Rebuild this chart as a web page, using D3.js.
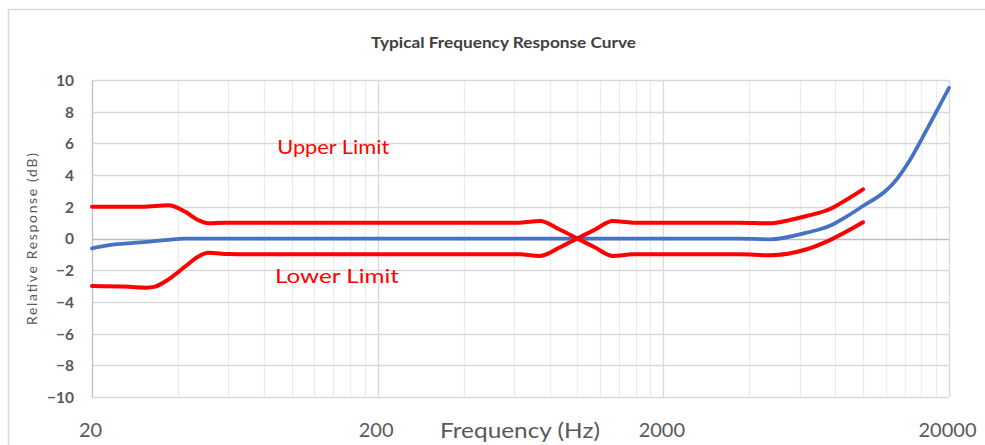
<!DOCTYPE html>
<html>
<head>
<meta charset="utf-8">
<script src="https://cdn.jsdelivr.net/npm/d3@7/dist/d3.min.js"></script>
<style>
  html, body { margin: 0; padding: 0; background: #fff; }
  svg { display: block; font-family: Lato, "Open Sans", sans-serif; }
</style>
</head>
<body>
<svg id="chart" width="985" height="445"></svg>
<script>
// ---------- data ----------
const chartTitle = "Typical Frequency Response Curve";
const xTickValues = [20, 200, 2000, 20000];
const yTickValues = [-10, -8, -6, -4, -2, 0, 2, 4, 6, 8, 10];

// Measured response (blue)
const responseFreq = [20, 23, 28, 32, 37, 42, 60, 200, 1000, 3700, 4720, 6350, 7660, 8600, 10000, 11900, 12800, 14600, 16700, 20000];
const responseDb   = [-0.62, -0.42, -0.28, -0.2, -0.08, 0, 0, 0, 0, 0, -0.05, 0.37, 0.8, 1.3, 2.05, 2.95, 3.5, 4.95, 6.85, 9.5];

// Limit curve that starts as the upper limit (red)
const limitAFreq = [20, 30, 37, 42.3, 47, 51, 58, 70, 630, 740, 870, 1000, 1150, 1330, 1560, 3700, 4720, 6350, 7660, 10000];
const limitADb   = [2.0, 2.0, 2.1, 1.7, 1.17, 0.96, 1.0, 1.0, 1.0, 1.1, 0.55, 0, -0.55, -1.1, -1.0, -1.0, -1.06, -0.68, -0.1, 1.02];

// Limit curve that starts as the lower limit (red)
const limitBFreq = [20, 27, 31, 33, 36.9, 42.3, 47, 51, 60, 70, 630, 740, 870, 1000, 1150, 1330, 1560, 3700, 4720, 5550, 6350, 7660, 8300, 10000];
const limitBDb   = [-3.0, -3.05, -3.1, -3.05, -2.6, -1.78, -1.15, -0.9, -0.98, -1.0, -1.0, -1.1, -0.55, 0, 0.55, 1.1, 1.0, 1.0, 0.96, 1.17, 1.42, 1.86, 2.2, 3.1];

const annotations = [
  { text: "Upper Limit", freq: 89, db: 5.3, width: 112 },
  { text: "Lower Limit", freq: 87.4, db: -2.83, width: 124 }
];

// ---------- layout ----------
const svg = d3.select("#chart");
const plotLeft = 92, plotRight = 949, plotTop = 80, plotBottom = 397;

const x = d3.scaleLog().domain([20, 20000]).range([plotLeft, plotRight]);
const y = d3.scaleLinear().domain([-10, 10]).range([plotBottom, plotTop]);

// outer chart border
svg.append("rect")
  .attr("x", 8.5).attr("y", 9.5)
  .attr("width", 1100).attr("height", 600)
  .attr("fill", "#fff").attr("stroke", "#d9d9d9").attr("stroke-width", 1.5);

// title
svg.append("text")
  .attr("x", 371).attr("y", 48)
  .attr("font-size", 15).attr("font-weight", "bold")
  .attr("fill", "#404040")
  .attr("textLength", 265).attr("lengthAdjust", "spacingAndGlyphs")
  .text(chartTitle);

// vertical gridlines (Excel style: minor lines at multiples of 20, 200, 2000)
const vGrid = [];
[20, 200, 2000].forEach(d => { for (let k = 1; k <= 9; k++) vGrid.push({ v: d * k, major: k === 1 }); });
vGrid.push({ v: 20000, major: true });

const grid = svg.append("g");
grid.selectAll("line.v").data(vGrid.filter(d => !d.major)).enter().append("line")
  .attr("x1", d => Math.round(x(d.v)) + 0.5).attr("x2", d => Math.round(x(d.v)) + 0.5)
  .attr("y1", plotTop).attr("y2", plotBottom)
  .attr("stroke", "#ececec").attr("stroke-width", 1.3);

grid.selectAll("line.h").data(yTickValues).enter().append("line")
  .attr("x1", plotLeft).attr("x2", plotRight)
  .attr("y1", d => Math.round(y(d)) + 0.5).attr("y2", d => Math.round(y(d)) + 0.5)
  .attr("stroke", d => d === 0 ? "#bfbfbf" : "#d9d9d9").attr("stroke-width", 1.3);

grid.selectAll("line.vm").data(vGrid.filter(d => d.major)).enter().append("line")
  .attr("x1", d => Math.round(x(d.v)) + 0.5).attr("x2", d => Math.round(x(d.v)) + 0.5)
  .attr("y1", plotTop).attr("y2", plotBottom)
  .attr("stroke", d => d.v === 20 ? "#bfbfbf" : "#d9d9d9").attr("stroke-width", 1.3);

// y tick labels
const yAxis = d3.axisLeft(y).tickValues(yTickValues).tickSize(0).tickPadding(0);
const gy = svg.append("g").attr("transform", `translate(${plotLeft - 18},0)`).call(yAxis);
gy.select(".domain").remove();
gy.selectAll("text")
  .attr("font-family", "Lato, sans-serif")
  .attr("font-size", 15.5).attr("font-weight", "bold").attr("fill", "#595959")
  .attr("dy", "0.35em");

// x tick labels
const xAxis = d3.axisBottom(x).tickValues(xTickValues).tickFormat(d3.format("d")).tickSize(0).tickPadding(0);
const gx = svg.append("g").attr("transform", `translate(-2,${plotBottom})`).call(xAxis);
gx.select(".domain").remove();
gx.selectAll("text")
  .attr("font-family", "Lato, sans-serif")
  .attr("font-size", 20).attr("fill", "#595959")
  .attr("y", 40).attr("dy", 0);

// axis titles
svg.append("text")
  .attr("x", 440).attr("y", 438)
  .attr("font-size", 21).attr("fill", "#595959")
  .attr("textLength", 160).attr("lengthAdjust", "spacingAndGlyphs")
  .text("Frequency (Hz)");

svg.append("text")
  .attr("transform", `translate(37,325) rotate(-90)`)
  .attr("font-size", 14).attr("fill", "#595959")
  .attr("textLength", 172).attr("lengthAdjust", "spacing")
  .text("Relative Response (dB)");

// ---------- curves ----------
const line = d3.line()
  .x(d => x(d[0])).y(d => y(d[1]))
  .curve(d3.curveMonotoneX);

const responseData = responseFreq.map((f, i) => [f, responseDb[i]]);
const limitAData = limitAFreq.map((f, i) => [f, limitADb[i]]);
const limitBData = limitBFreq.map((f, i) => [f, limitBDb[i]]);

svg.append("path").datum(responseData)
  .attr("d", line).attr("fill", "none")
  .attr("stroke", "#4472c4").attr("stroke-width", 3.75)
  .attr("stroke-linejoin", "round").attr("stroke-linecap", "round");

[limitAData, limitBData].forEach(data => {
  svg.append("path").datum(data)
    .attr("d", line).attr("fill", "none")
    .attr("stroke", "#ff0000").attr("stroke-width", 4)
    .attr("stroke-linejoin", "round").attr("stroke-linecap", "round");
});

// annotations
svg.selectAll("text.ann").data(annotations).enter().append("text")
  .attr("class", "ann")
  .attr("x", d => x(d.freq)).attr("y", d => y(d.db))
  .attr("font-size", 20).attr("fill", "#ff0000")
  .attr("textLength", d => d.width).attr("lengthAdjust", "spacingAndGlyphs")
  .text(d => d.text);
</script>
</body>
</html>
